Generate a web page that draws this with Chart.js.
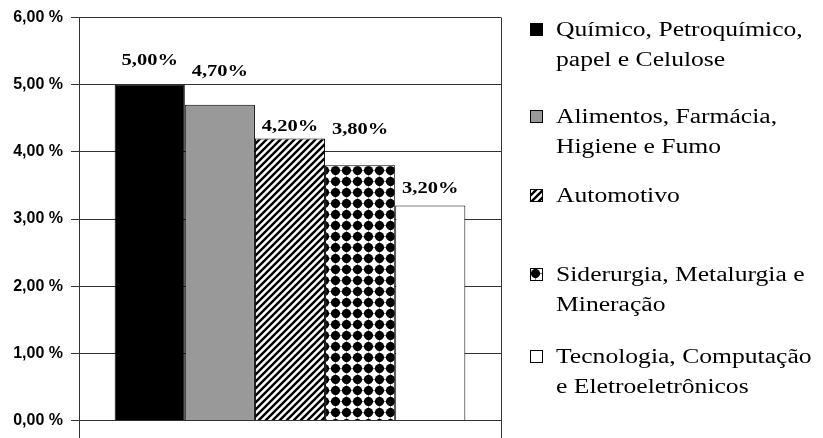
<!DOCTYPE html>
<html>
<head>
<meta charset="utf-8">
<script src="https://cdn.jsdelivr.net/npm/chart.js@4.4.0/dist/chart.umd.min.js"></script>
<style>
  html, body { margin: 0; padding: 0; background: #fff; }
  #wrap { width: 823px; height: 438px; }
</style>
</head>
<body>
<div id="wrap"><canvas id="chart" width="823" height="438"></canvas></div>
<script>
// categories (legend lines) and values, in %
var categories = [
  ["Químico, Petroquímico,", "papel e Celulose"],
  ["Alimentos, Farmácia,", "Higiene e Fumo"],
  ["Automotivo"],
  ["Siderurgia, Metalurgia e", "Mineração"],
  ["Tecnologia, Computação", "e Eletroeletrônicos"]
];
var values = [5.00, 4.70, 4.20, 3.80, 3.20];
var yTicks = [0, 1, 2, 3, 4, 5, 6];

var ctx = document.getElementById("chart").getContext("2d");

// fill patterns like the old office charts
function hatchPattern() {
  var c = document.createElement("canvas");
  c.width = c.height = 7;
  var g = c.getContext("2d");
  g.fillStyle = "#fff";
  g.fillRect(0, 0, 7, 7);
  g.strokeStyle = "#000";
  g.lineWidth = 2.4;
  g.beginPath();
  g.moveTo(-1, 8); g.lineTo(8, -1);
  g.moveTo(-1, 1); g.lineTo(1, -1);
  g.moveTo(6, 8); g.lineTo(8, 6);
  g.stroke();
  return ctx.createPattern(c, "repeat");
}
function diamondPattern() {
  var c = document.createElement("canvas");
  c.width = c.height = 11;
  var g = c.getContext("2d");
  g.fillStyle = "#fff";
  g.fillRect(0, 0, 11, 11);
  g.fillStyle = "#000";
  g.beginPath();
  g.moveTo(5.5, 0.2); g.lineTo(10.8, 5.5); g.lineTo(5.5, 10.8); g.lineTo(0.2, 5.5);
  g.closePath();
  g.fill();
  g.beginPath();
  g.arc(5.5, 5.5, 4.5, 0, Math.PI * 2);
  g.fill();
  return ctx.createPattern(c, "repeat");
}

var fills = ["#000000", "#999999", hatchPattern(), diamondPattern(), "#ffffff"];
var labelLift = [24, 33, 12, 35, 17];

function pct(v, sep) {
  return v.toFixed(2).replace(".", ",") + sep + "%";
}

var datasets = values.map(function (v, i) {
  return {
    label: categories[i].join(" "),
    data: [v],
    backgroundColor: fills[i],
    borderColor: "#000",
    borderWidth: 1,
    barPercentage: 1,
    categoryPercentage: 0.831,
  };
});

var framePlugin = {
  id: "frame",
  beforeDatasetsDraw: function (chart) {
    var a = chart.chartArea, c = chart.ctx;
    c.save();
    c.strokeStyle = "#333";
    c.lineWidth = 1;
    c.beginPath();
    c.moveTo(Math.round(a.right) + 0.5, a.top);
    c.lineTo(Math.round(a.right) + 0.5, 438);
    c.moveTo(Math.round(a.left) + 0.5, a.bottom);
    c.lineTo(Math.round(a.left) + 0.5, 438);
    c.stroke();
    c.restore();
  },
  afterDatasetsDraw: function (chart) {
    var c = chart.ctx;
    c.save();
    c.fillStyle = "#000";
    c.font = "bold 16px 'Liberation Serif'";
    c.textAlign = "center";
    c.textBaseline = "middle";
    chart.data.datasets.forEach(function (ds, i) {
      var bar = chart.getDatasetMeta(i).data[0];
      c.save();
      c.translate(bar.x, bar.y - labelLift[i]);
      c.scale(1.28, 1);
      c.fillText(pct(ds.data[0], ""), 0, 0);
      c.restore();
    });
    c.restore();
  },
  afterDraw: function (chart) {
    // legend on the right
    var c = chart.ctx;
    var tops = [36, 123, 202, 281, 363];
    var lineGap = 30;
    c.save();
    c.font = "20px 'Liberation Serif'";
    c.textBaseline = "alphabetic";
    c.fillStyle = "#000";
    categories.forEach(function (lines, i) {
      var y = tops[i];
      c.save();
      c.translate(530, y - 13);
      c.fillStyle = fills[i];
      c.fillRect(0, 0, 13, 13);
      c.strokeStyle = "#000";
      c.lineWidth = 1;
      c.strokeRect(0.5, 0.5, 12, 12);
      c.restore();
      lines.forEach(function (t, k) {
        c.save();
        c.translate(556, y + k * lineGap);
        c.scale(1.28, 1);
        c.fillStyle = "#000";
        c.fillText(t, 0, 0);
        c.restore();
      });
    });
    c.restore();
  }
};

new Chart(ctx, {
  type: "bar",
  data: { labels: [""], datasets: datasets },
  plugins: [framePlugin],
  options: {
    responsive: false,
    animation: false,
    layout: { padding: { top: 14, right: 322, bottom: 10, left: 0 } },
    plugins: {
      legend: { display: false },
      title: { display: false },
      tooltip: { enabled: false }
    },
    scales: {
      x: { display: false },
      y: {
        min: 0,
        max: 6,
        afterFit: function (scale) { scale.width = 79; },
        afterBuildTicks: function (scale) {
          scale.ticks = yTicks.map(function (v) { return { value: v }; });
        },
        ticks: {
          color: "#000",
          padding: 8,
          font: { family: "'Liberation Sans'", weight: "bold", size: 16 },
          callback: function (v) { return pct(v, " "); }
        },
        grid: { color: "#333", lineWidth: 1, tickLength: 8 },
        border: { display: true, color: "#333", width: 1 }
      }
    }
  }
});
</script>
</body>
</html>
